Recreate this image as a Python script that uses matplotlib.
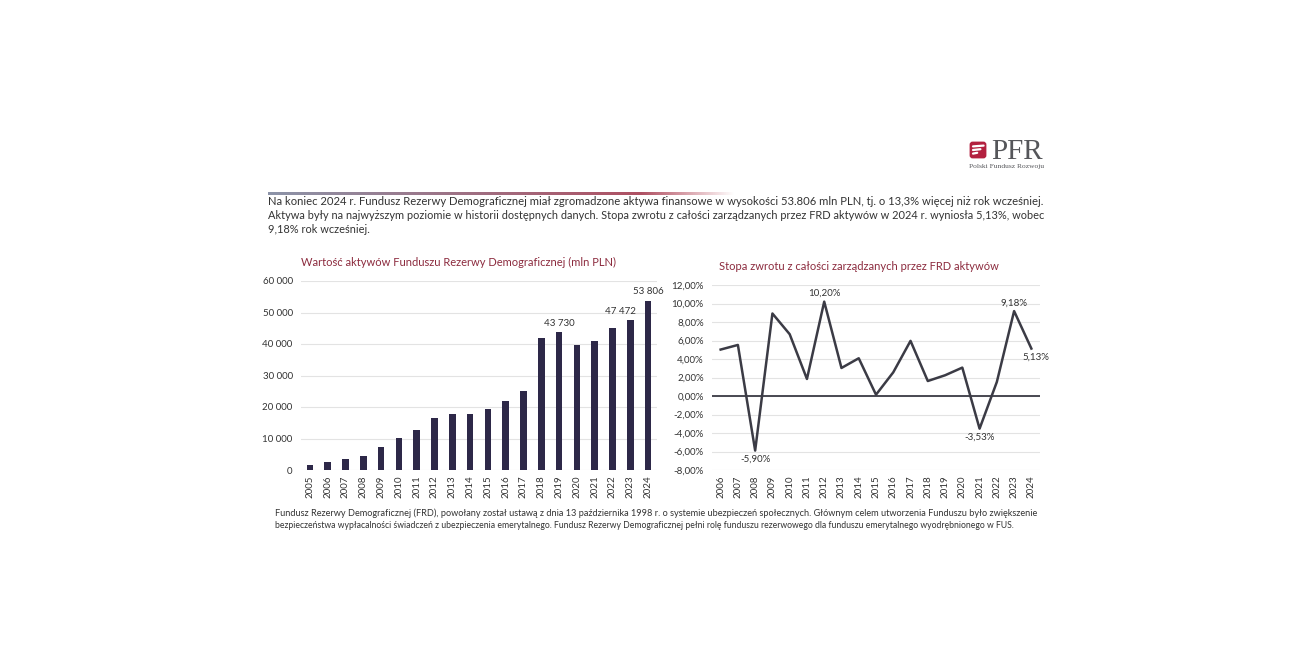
import numpy as np
import matplotlib.pyplot as plt
from matplotlib.patches import FancyBboxPatch

# dane
lata_aktywa = [str(r) for r in range(2005, 2025)]
aktywa = [1600, 2500, 3500, 4400, 7300, 10300, 12800, 16400, 17700, 17800,
          19500, 21800, 25000, 41900, 43730, 39600, 40800, 45200, 47472, 53806]
etykiety_aktywa = {"2019": "43 730", "2023": "47 472", "2024": "53 806"}

lata_stopa = [str(r) for r in range(2006, 2025)]
stopa = [5.02, 5.52, -5.90, 8.92, 6.68, 1.84, 10.20, 3.03, 4.08, 0.14,
         2.56, 5.96, 1.62, 2.24, 3.07, -3.53, 1.52, 9.18, 5.13]
etykiety_stopa = {"2008": "-5,90%", "2012": "10,20%", "2021": "-3,53%",
                  "2023": "9,18%", "2024": "5,13%"}

naglowek = ("Na koniec 2024 r. Fundusz Rezerwy Demograficznej miał zgromadzone aktywa finansowe w wysokości "
            "53.806 mln PLN, tj. o 13,3% więcej niż rok wcześniej.",
            "Aktywa były na najwyższym poziomie w historii dostępnych danych. Stopa zwrotu z całości "
            "zarządzanych przez FRD aktywów w 2024 r. wyniosła 5,13%, wobec",
            "9,18% rok wcześniej.")
stopka = ("Fundusz Rezerwy Demograficznej (FRD), powołany został ustawą z dnia 13 października 1998 r. o systemie "
          "ubezpieczeń społecznych. Głównym celem utworzenia Funduszu było zwiększenie",
          "bezpieczeństwa wypłacalności świadczeń z ubezpieczenia emerytalnego. Fundusz Rezerwy Demograficznej "
          "pełni rolę funduszu rezerwowego dla funduszu emerytalnego wyodrębnionego w FUS.")

plt.rcParams['font.family'] = ['Lato', 'DejaVu Sans']

W, H = 1294, 646
fig = plt.figure(figsize=(W / 100, H / 100), dpi=100)
fig.patch.set_facecolor('white')

KOLOR_SLUPKI = '#2d2848'
KOLOR_LINIA = '#3b3b45'
KOLOR_TYTUL = '#8c2b3e'
KOLOR_SIATKA = '#e3e3e3'
KOLOR_TEKST = '#333333'


def px(x, y):
    """piksele (od lewego gornego rogu) -> wspolrzedne figury"""
    return x / W, 1 - y / H


def akapit(linie, x0, prawe, y0, krok):
    """linie dopasowane rozmiarem do prawej krawedzi; None = rozmiar poprzedniej linii"""
    r = fig.canvas.get_renderer()
    rozmiar = None
    for i, linia in enumerate(linie):
        t = fig.text(*px(x0, y0 + i * krok), linia, fontsize=10, color=KOLOR_TEKST, va='baseline')
        if prawe[i] is not None:
            w = t.get_window_extent(r).width
            rozmiar = 10 * (prawe[i] - x0) / w
        t.set_fontsize(rozmiar)


# pasek gradientowy nad naglowkiem
grad = np.linspace(0, 1, 256)
kol = np.zeros((1, 256, 4))
c1 = np.array([0.55, 0.58, 0.66])
c2 = np.array([0.72, 0.25, 0.32])
for i, g in enumerate(grad):
    kol[0, i, :3] = c1 * (1 - g) + c2 * g
    kol[0, i, 3] = 1.0 if g < 0.8 else max(0, (1 - g) / 0.2)
ax_g = fig.add_axes([*px(268, 195), (735 - 268) / W, 2.5 / H])
ax_g.imshow(kol, aspect='auto')
ax_g.axis('off')

akapit(naglowek, 268, [1043, 1043, None], 205, 14)
akapit(stopka, 275, [1042, 1012], 516, 12)

# logo PFR
ax_l = fig.add_axes([*px(968, 160), 20 / W, 20 / H])
ax_l.add_patch(FancyBboxPatch((0.08, 0.08), 0.84, 0.84, boxstyle='round,pad=0,rounding_size=0.15',
                              fc='#b3203f', ec='none'))
for yy, x1 in [(0.68, 0.78), (0.5, 0.62), (0.32, 0.46)]:
    ax_l.plot([0.25, x1], [yy, yy + 0.04], color='white', lw=1.6, solid_capstyle='round')
ax_l.set_xlim(0, 1)
ax_l.set_ylim(0, 1)
ax_l.axis('off')
fig.text(*px(991, 159), 'PFR', fontsize=21, family='Liberation Serif', color='#55565a', va='baseline')
fig.text(*px(969, 168), 'Polski Fundusz Rozwoju', fontsize=5.4, family='Liberation Serif',
         color='#55565a', va='baseline')

# wykres slupkowy - aktywa
ax1 = fig.add_axes([*px(301, 470), (657 - 301) / W, (470 - 281) / H])
x1 = np.arange(len(lata_aktywa))
ax1.bar(x1, aktywa, width=0.38, color=KOLOR_SLUPKI, zorder=3)
ax1.set_xlim(-0.5, len(lata_aktywa) - 0.5)
ax1.set_ylim(0, 60000)
ax1.set_yticks(np.arange(0, 60001, 10000))
ax1.set_yticklabels([f"{v:,}".replace(',', ' ') for v in range(0, 60001, 10000)])
ax1.set_xticks(x1)
ax1.set_xticklabels(lata_aktywa, rotation=90)
ax1.grid(axis='y', color=KOLOR_SIATKA, lw=0.8, zorder=0)
for s in ax1.spines.values():
    s.set_visible(False)
ax1.tick_params(length=0, labelsize=7, colors=KOLOR_TEKST, pad=6)
ax1.tick_params(axis='x', pad=4)
for rok, txt in etykiety_aktywa.items():
    i = lata_aktywa.index(rok)
    dx = -0.55 if rok == "2023" else 0
    ax1.text(i + dx, aktywa[i] + 1500, txt, ha='center', va='bottom', fontsize=7, color=KOLOR_TEKST)
ax1.text(0.0, 1.07, 'Wartość aktywów Funduszu Rezerwy Demograficznej (mln PLN)', transform=ax1.transAxes,
         fontsize=8, color=KOLOR_TYTUL, va='bottom')

# wykres liniowy - stopa zwrotu
ax2 = fig.add_axes([*px(712, 470), (1040 - 712) / W, (470 - 285) / H])
x2 = np.arange(len(lata_stopa))
ax2.plot(x2, stopa, color=KOLOR_LINIA, lw=1.8, zorder=3)
ax2.set_xlim(-0.5, len(lata_stopa) - 0.5)
ax2.set_ylim(-8, 12)
yt = np.arange(-8, 12.1, 2)
ax2.set_yticks(yt)
ax2.set_yticklabels([f"{v:.2f}%".replace('.', ',') for v in yt])
ax2.set_xticks(x2)
ax2.set_xticklabels(lata_stopa, rotation=90)
ax2.grid(axis='y', color=KOLOR_SIATKA, lw=0.8, zorder=0)
ax2.axhline(0, color=KOLOR_LINIA, lw=1.3, zorder=2)
for s in ax2.spines.values():
    s.set_visible(False)
ax2.tick_params(length=0, labelsize=7, colors=KOLOR_TEKST, pad=6)
ax2.tick_params(axis='x', pad=4)
for rok, txt in etykiety_stopa.items():
    i = lata_stopa.index(rok)
    v = stopa[i]
    if rok == "2024":
        ax2.text(i + 0.25, v - 0.5, txt, ha='center', va='top', fontsize=7, color=KOLOR_TEKST)
    elif v < 0:
        ax2.text(i, v - 0.4, txt, ha='center', va='top', fontsize=7, color=KOLOR_TEKST)
    else:
        ax2.text(i, v + 0.4, txt, ha='center', va='bottom', fontsize=7, color=KOLOR_TEKST)
ax2.text(0.02, 1.07, 'Stopa zwrotu z całości zarządzanych przez FRD aktywów', transform=ax2.transAxes,
         fontsize=8, color=KOLOR_TYTUL, va='bottom')

fig.savefig('out.png', dpi=100, facecolor='white')
